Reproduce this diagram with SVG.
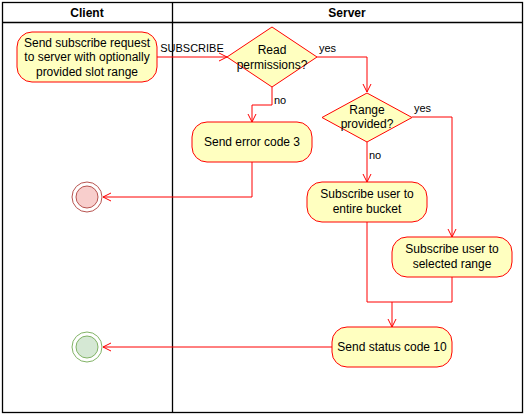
<svg xmlns="http://www.w3.org/2000/svg" width="525" height="416" viewBox="0 0 525 416">
<defs>
<marker id="arr" viewBox="0 0 10 10" refX="9" refY="5" markerWidth="10" markerHeight="10" markerUnits="userSpaceOnUse" orient="auto">
<path d="M1,1 L9,5 L1,9" fill="none" stroke="#ff0000" stroke-width="1"/>
</marker>
</defs>
<style>
.lane{fill:none;stroke:#000;stroke-width:1.3}
.act{fill:#ffffc0;stroke:#ff0000;stroke-width:1}
.t{font-family:"Liberation Sans",Arial,sans-serif;font-size:12px;fill:#000;text-anchor:middle}
.h{font-weight:bold}
.lbl{font-family:"Liberation Sans",Arial,sans-serif;font-size:11px;fill:#000}
.c{fill:none;stroke:#ff0000;stroke-width:1;marker-end:url(#arr)}
.cn{fill:none;stroke:#ff0000;stroke-width:1}
</style>
<g id="lanes">
<rect class="lane" x="2.5" y="2.5" width="520" height="410"/>
<line class="lane" x1="2.5" y1="22.5" x2="522.5" y2="22.5"/>
<line class="lane" x1="172.5" y1="2.5" x2="172.5" y2="412.5"/>
<text class="t h" x="87" y="17">Client</text>
<text class="t h" x="347" y="17">Server</text>
</g>
<g id="connectors">
<path class="c" d="M157,57 L227,57"/>
<text class="lbl" x="192" y="52" text-anchor="middle">SUBSCRIBE</text>
<path class="c" d="M272,87 L272,105 L252,105 L252,122"/>
<text class="lbl" x="274" y="104">no</text>
<path class="c" d="M317,57 L367,57 L367,92"/>
<text class="lbl" x="319" y="52">yes</text>
<path class="c" d="M367,142 L367,182"/>
<text class="lbl" x="369" y="159">no</text>
<path class="c" d="M412,117 L452,117 L452,237"/>
<text class="lbl" x="414" y="112">yes</text>
<path class="cn" d="M367,222 L367,302 L452,302 L452,277"/>
<path class="c" d="M392,302 L392,327"/>
<path class="c" d="M252,162 L252,197 L103,197"/>
<path class="c" d="M332,347 L103,347"/>
</g>
<g id="start">
<rect class="act" x="17" y="32" width="140" height="50" rx="15" ry="15"/>
<text class="t" x="87" y="47">Send subscribe request</text>
<text class="t" x="87" y="61">to server with optionally</text>
<text class="t" x="87" y="76">provided slot range</text>
</g>
<g id="readPermissions">
<polygon class="act" points="272,27 317,57 272,87 227,57"/>
<text class="t" x="272" y="54">Read</text>
<text class="t" x="272" y="69">permissions?</text>
</g>
<g id="errorCode">
<rect class="act" x="192" y="122" width="120" height="40" rx="15" ry="15"/>
<text class="t" x="252" y="146">Send error code 3</text>
</g>
<g id="rangeProvided">
<polygon class="act" points="367,93 412,117.5 367,142 322,117.5"/>
<text class="t" x="367" y="114">Range</text>
<text class="t" x="367" y="128">provided?</text>
</g>
<g id="entireBucket">
<rect class="act" x="307" y="182" width="120" height="40" rx="15" ry="15"/>
<text class="t" x="367" y="198">Subscribe user to</text>
<text class="t" x="367" y="213">entire bucket</text>
</g>
<g id="selectedRange">
<rect class="act" x="392" y="237" width="120" height="40" rx="15" ry="15"/>
<text class="t" x="452" y="253">Subscribe user to</text>
<text class="t" x="452" y="268">selected range</text>
</g>
<g id="statusCode">
<rect class="act" x="332" y="327" width="120" height="40" rx="15" ry="15"/>
<text class="t" x="392" y="351">Send status code 10</text>
</g>
<g id="endError">
<circle cx="87" cy="197" r="15" fill="none" stroke="#b85450" stroke-width="1"/>
<circle cx="87" cy="197" r="11" fill="#f8cecc" stroke="#b85450" stroke-width="1"/>
</g>
<g id="endSuccess">
<circle cx="87" cy="347" r="15" fill="none" stroke="#82b366" stroke-width="1"/>
<circle cx="87" cy="347" r="11" fill="#d5e8d4" stroke="#82b366" stroke-width="1"/>
</g>
</svg>
